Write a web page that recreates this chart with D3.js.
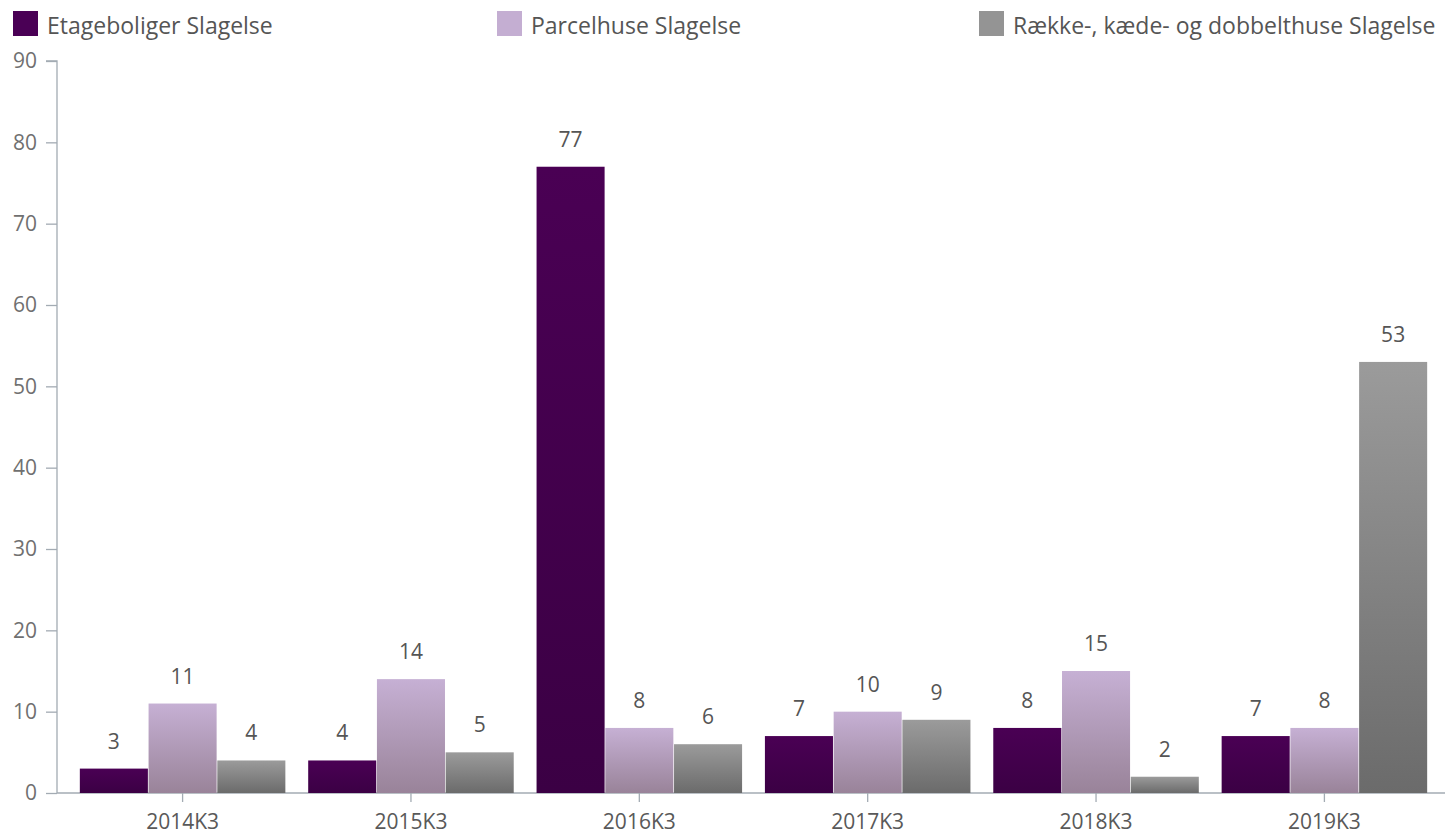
<!DOCTYPE html>
<html>
<head>
<meta charset="utf-8">
<script src="https://cdn.jsdelivr.net/npm/d3@7"></script>
<style>
  body { margin: 0; background: #fff; }
  svg { display: block; font-family: "Open Sans", "Noto Sans", sans-serif; }
</style>
</head>
<body>
<div id="chart"></div>
<script>
// data
const categories = ["2014K3", "2015K3", "2016K3", "2017K3", "2018K3", "2019K3"];
const seriesNames = ["Etageboliger Slagelse", "Parcelhuse Slagelse", "Række-, kæde- og dobbelthuse Slagelse"];
const etageboliger = [3, 4, 77, 7, 8, 7];
const parcelhuse = [11, 14, 8, 10, 15, 8];
const raekkehuse = [4, 5, 6, 9, 2, 53];
const yTicks = [0, 10, 20, 30, 40, 50, 60, 70, 80, 90];

const seriesValues = [etageboliger, parcelhuse, raekkehuse];
const legendColors = ["#4a0055", "#c4aed2", "#949494"];
const gradTop = ["#4a0054", "#c6b0d4", "#9b9b9b"];
const gradBottom = ["#3b0044", "#998399", "#6b6b6b"];

const W = 1445, H = 834;
const svg = d3.select("#chart").append("svg")
    .attr("width", W)
    .attr("height", H);

const x0 = d3.scaleBand().domain(categories).range([57, 1450])
    .paddingInner(0.1).paddingOuter(0.1);
const x1 = d3.scaleBand().domain(d3.range(seriesNames.length))
    .range([0, x0.bandwidth()]).paddingInner(0.01);
const y = d3.scaleLinear().domain([0, 90]).range([793, 61]);

// gradients
const defs = svg.append("defs");
seriesNames.forEach((s, i) => {
    const g = defs.append("linearGradient")
        .attr("id", "grad" + i)
        .attr("x1", 0).attr("y1", 0).attr("x2", 0).attr("y2", 1);
    g.append("stop").attr("offset", "0%").attr("stop-color", gradTop[i]);
    g.append("stop").attr("offset", "100%").attr("stop-color", gradBottom[i]);
});

// legend
const legendX = [13, 497, 979];
const legend = svg.append("g");
seriesNames.forEach((s, i) => {
    legend.append("rect")
        .attr("x", legendX[i]).attr("y", 11)
        .attr("width", 25).attr("height", 25)
        .attr("fill", legendColors[i]);
    legend.append("text")
        .attr("x", legendX[i] + 34).attr("y", 34)
        .attr("font-size", 23)
        .attr("fill", "#555")
        .text(s);
});

// y axis
const yAxis = svg.append("g")
    .attr("transform", "translate(57,0)")
    .call(d3.axisLeft(y).tickValues(yTicks).tickSize(11).tickPadding(9));
yAxis.select(".domain").attr("stroke", "#a3abb3").attr("stroke-width", 1.3)
    .attr("d", `M-11,${y(90)}H0V${y(0)}`);
yAxis.selectAll(".tick line").attr("stroke", "#a3abb3").attr("stroke-width", 1.3);
yAxis.selectAll(".tick text").attr("fill", "#707070").attr("font-size", 21)
    .attr("font-family", "\"Open Sans\", sans-serif");

// x axis
const xAxis = svg.append("g")
    .attr("transform", `translate(0,${y(0)})`)
    .call(d3.axisBottom(x0).tickSize(9).tickPadding(12).tickSizeOuter(0));
xAxis.select(".domain").attr("stroke", "#a3abb3").attr("stroke-width", 1.3)
    .attr("d", `M57,0H1445`);
xAxis.selectAll(".tick line").attr("stroke", "#a3abb3").attr("stroke-width", 1.3);
xAxis.selectAll(".tick text").attr("fill", "#595959").attr("font-size", 21)
    .attr("font-family", "\"Open Sans\", sans-serif");

// bars
const groups = svg.append("g").selectAll("g")
    .data(categories)
    .join("g")
    .attr("transform", d => `translate(${x0(d)},0)`);

groups.each(function (cat, ci) {
    const g = d3.select(this);
    seriesValues.forEach((vals, si) => {
        const v = vals[ci];
        g.append("rect")
            .attr("x", x1(si))
            .attr("y", y(v))
            .attr("width", x1.bandwidth())
            .attr("height", y(0) - y(v))
            .attr("fill", `url(#grad${si})`);
        g.append("text")
            .attr("x", x1(si) + x1.bandwidth() / 2)
            .attr("y", y(v) - 20)
            .attr("text-anchor", "middle")
            .attr("font-size", 21)
            .attr("fill", "#555")
            .text(v);
    });
});
</script>
</body>
</html>
